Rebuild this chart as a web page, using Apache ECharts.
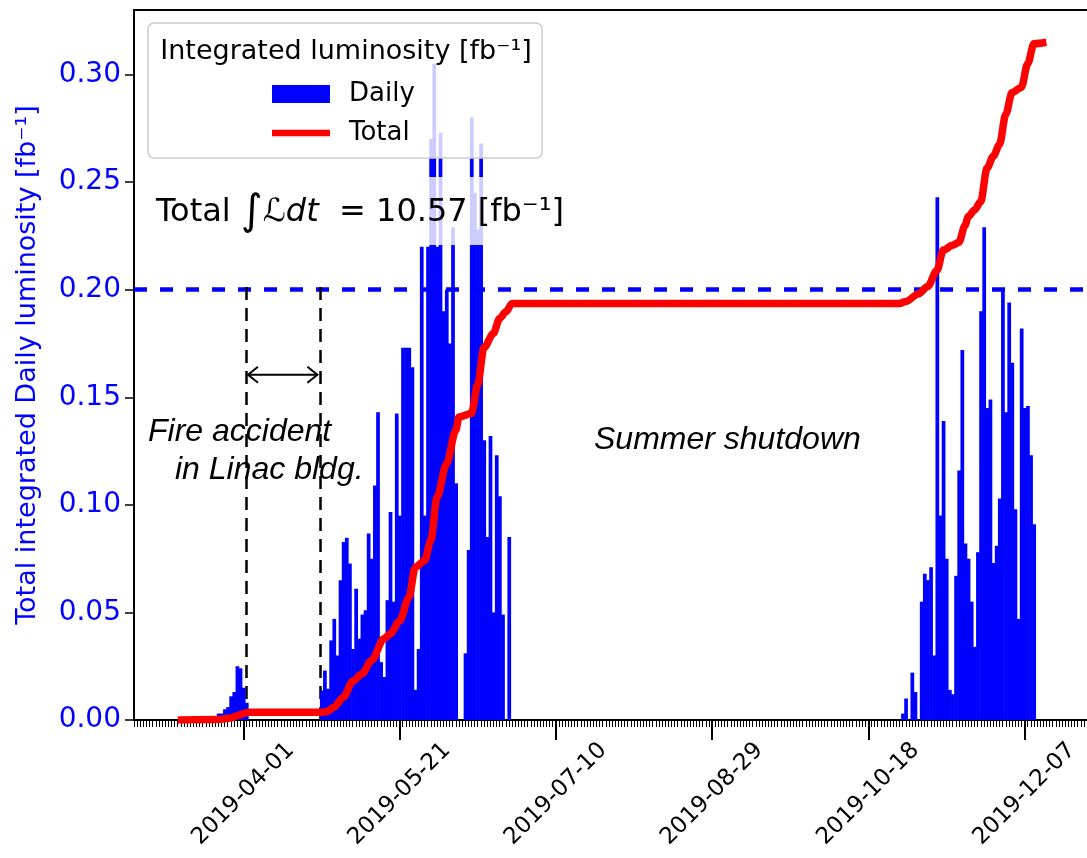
<!DOCTYPE html>
<html><head><meta charset="utf-8">
<script src="https://cdn.jsdelivr.net/npm/echarts@6/dist/echarts.min.js"></script>
<style>html,body{margin:0;padding:0;background:#fff}#c{width:1087px;height:858px}</style>
</head><body><div id="c"></div>
<script>
// ---------- data ----------
const xTickLabels = ['2019-04-01','2019-05-21','2019-07-10','2019-08-29','2019-10-18','2019-12-07'];
const yTickValues = [0, 0.05, 0.10, 0.15, 0.20, 0.25, 0.30];
const xRange = ['2019-02-25', '2019-12-27'];

// daily luminosity runs (one value per day from the start date)
const run1Start = '2019-03-24';
const run1Daily = [0.003, 0.003, 0.005, 0.006, 0.011, 0.013, 0.025, 0.024, 0.015, 0.008];
const run2Start = '2019-04-26';
const run2Daily = [0.0137, 0.023, 0.0145, 0.037, 0.047, 0.030, 0.065, 0.0827, 0.0847, 0.0727,
  0.033, 0.061, 0.0378, 0.049, 0.051, 0.0867, 0.075, 0.109, 0.143, 0.0269,
  0.020, 0.0557, 0.0967, 0.055, 0.1425, 0.095,
  0.173, 0.173, 0.173, 0.164, 0.014, 0.033, 0.22, 0.095, 0.22, 0.27,
  0.305, 0.22, 0.273, 0.19, 0.20, 0.175, 0.229, 0.11, 0, 0,
  0.031, 0.079, 0.28, 0.245, 0.228, 0.268, 0.13, 0.085, 0.132, 0.05,
  0.123, 0.104, 0.049, 0, 0.085];
const run3Start = '2019-10-29';
const run3Daily = [0.003, 0.010, 0, 0.022, 0.013, 0, 0.055, 0.068, 0.065, 0.071,
  0.030, 0.243, 0.095, 0.139, 0.075, 0.014, 0.012, 0.067, 0.116, 0.172,
  0.082, 0.075, 0.055, 0.034, 0.078, 0.19, 0.229, 0.145, 0.149, 0.073,
  0.081, 0.103, 0.20, 0.143, 0.194, 0.166, 0.098, 0.047, 0.182, 0.145,
  0.146, 0.123, 0.091];

// total (scaled) integrated luminosity curve
const totalDates = ['2019-03-11','2019-03-24','2019-03-28','2019-03-30','2019-04-02','2019-04-03',
  '2019-04-26','2019-04-28','2019-04-30','2019-05-03','2019-05-06','2019-05-09','2019-05-12',
  '2019-05-16','2019-05-18','2019-05-21','2019-05-24','2019-05-26','2019-05-29','2019-05-31',
  '2019-06-02','2019-06-05','2019-06-08','2019-06-09','2019-06-13','2019-06-15','2019-06-17',
  '2019-06-20','2019-06-22','2019-06-24','2019-06-26','2019-10-28','2019-10-30','2019-11-03',
  '2019-11-06','2019-11-09','2019-11-11','2019-11-14','2019-11-16','2019-11-18','2019-11-19',
  '2019-11-21','2019-11-23','2019-11-25','2019-11-27','2019-11-29','2019-12-01','2019-12-03',
  '2019-12-06','2019-12-08','2019-12-10','2019-12-14'];
const totalValues = [0, 0.0002, 0.0009, 0.002, 0.0034, 0.0036,
  0.0036, 0.004, 0.006, 0.0106, 0.018, 0.0215, 0.0277,
  0.0378, 0.040, 0.046, 0.057, 0.071, 0.074, 0.0835,
  0.1036, 0.119, 0.1347, 0.1408, 0.1424, 0.156, 0.173,
  0.1796, 0.1866, 0.1897, 0.1936, 0.1936, 0.1945, 0.198,
  0.2015, 0.209, 0.2184, 0.2207, 0.222, 0.23, 0.234,
  0.237, 0.241, 0.2565, 0.262, 0.2675, 0.2815, 0.2917,
  0.294, 0.305, 0.3143, 0.315];

const targetLevel = 0.20;
const fireLines = ['2019-04-02T00', '2019-04-25T12'];
const fireLineTop = 0.203;
const fireArrowY = 0.1605;
const totalText = '10.57';

// ---------- helpers ----------
const epoch = Date.UTC(2019, 3, 1);
const DAY = 86400000;
function dayOf(s) {
  const [date, hh] = s.split('T');
  const [y, m, d] = date.split('-').map(Number);
  return (Date.UTC(y, m - 1, d) - epoch) / DAY + (hh ? Number(hh) / 24 : 0);
}
function fmt(d) { return new Date(epoch + Math.round(d) * DAY).toISOString().slice(0, 10); }

const bars = [];
[[run1Start, run1Daily], [run2Start, run2Daily], [run3Start, run3Daily]].forEach(([s, arr]) => {
  const d0 = dayOf(s);
  arr.forEach((v, i) => { if (v > 0) bars.push([d0 + i, v]); });
});
const totalLine = totalDates.map((s, i) => [dayOf(s), totalValues[i]]);
const xTicks = xTickLabels.map(dayOf);
const xMin = dayOf(xRange[0]), xMax = dayOf(xRange[1]);
const fireX = fireLines.map(dayOf);

const FONT = '"DejaVu Sans", sans-serif';
const chart = echarts.init(document.getElementById('c'));

// one-day-wide bars, drawn through the axis scales (slight overlap to avoid seams)
function renderBar(params, api) {
  const d = api.value(0), v = api.value(1);
  const top = api.coord([d - 0.5, v]);
  const base = api.coord([d + 0.5, 0]);
  return { type: 'rect', shape: { x: top[0], y: top[1], width: base[0] - top[0] + 0.6, height: base[1] - top[1] },
           style: { fill: '#0000ff' } };
}

chart.setOption({
  animation: false,
  grid: { left: 134, top: 10, right: 0, bottom: 138, outerBoundsMode: 'none', containLabel: false },
  xAxis: [
    { type: 'value', min: xMin, max: xMax, position: 'bottom',
      axisLine: { onZero: false, lineStyle: { color: '#000', width: 2 } },
      axisTick: { customValues: xTicks, length: 20, lineStyle: { color: '#000', width: 2 } },
      axisLabel: { customValues: xTicks, formatter: fmt, rotate: 45, align: 'center', verticalAlign: 'middle',
        margin: 74, fontSize: 23, fontFamily: FONT, color: '#000' },
      splitLine: { show: false } },
    { type: 'value', min: xMin, max: xMax, interval: 1, position: 'bottom',
      axisLine: { show: false, onZero: false },
      axisTick: { length: 7, lineStyle: { color: '#000', width: 1 } },
      axisLabel: { show: false }, splitLine: { show: false } },
    { type: 'value', min: xMin, max: xMax, position: 'top',
      axisLine: { onZero: false, lineStyle: { color: '#000', width: 2 } },
      axisTick: { show: false }, axisLabel: { show: false }, splitLine: { show: false } }
  ],
  yAxis: {
    type: 'value', min: 0, max: 0.33,
    axisLine: { show: true, onZero: false, lineStyle: { color: '#000', width: 2 } },
    axisTick: { show: true, customValues: yTickValues, length: 9, lineStyle: { color: '#000', width: 1.5 } },
    axisLabel: { customValues: yTickValues, formatter: v => v.toFixed(2), color: '#0000ff', fontSize: 28, fontFamily: FONT, margin: 13 },
    splitLine: { show: false },
    name: 'Total integrated Daily luminosity [fb⁻¹]', nameLocation: 'middle', nameGap: 93,
    nameTextStyle: { color: '#0000ff', fontSize: 27, fontFamily: FONT }
  },
  legend: {
    data: [{ name: 'Daily', icon: 'rect' }, { name: 'Total', icon: 'path://M0,0 H61 V7 H0 Z' }],
    orient: 'vertical', left: 267, top: 74, itemWidth: 58, itemHeight: 18, itemGap: 9,
    selectedMode: false, z: 20,
    textStyle: { fontSize: 26, fontFamily: FONT, color: '#000', lineHeight: 30, padding: [0, 0, 0, 14] }
  },
  series: [
    { name: 'Daily', type: 'custom', data: bars, renderItem: renderBar, encode: { x: 0, y: 1 }, z: 2,
      itemStyle: { color: '#0000ff' },
      markLine: { silent: true, symbol: 'none', label: { show: false }, animation: false, z: 2,
        data: [
          { yAxis: targetLevel, lineStyle: { color: '#0000ff', width: 4.5, type: [13, 13] } },
          [{ coord: [fireX[0], 0], lineStyle: { color: '#000', width: 2.5, type: [13, 8] } }, { coord: [fireX[0], fireLineTop] }],
          [{ coord: [fireX[1], 0], lineStyle: { color: '#000', width: 2.5, type: [13, 8] } }, { coord: [fireX[1], fireLineTop] }]
        ] } },
    { name: 'Total', type: 'line', data: totalLine, symbol: 'none', z: 3, smooth: 0.3, smoothMonotone: 'x',
      lineStyle: { color: '#ff0000', width: 7.5, join: 'round', cap: 'butt' }, itemStyle: { color: '#ff0000' } }
  ]
});

// annotations anchored to data coordinates
const p1 = chart.convertToPixel({ gridIndex: 0 }, [fireX[0], fireArrowY]);
const p2 = chart.convertToPixel({ gridIndex: 0 }, [fireX[1], fireArrowY]);
const ax1 = p1[0] + 1.5, ax2 = p2[0] - 2.5, ay = p1[1];
const ITAL = 'italic 32px "Liberation Sans", Arial, sans-serif';
chart.setOption({
  graphic: [
    { type: 'rect', z: 10, shape: { x: 148, y: 23, width: 394, height: 135, r: 6 },
      style: { fill: 'rgba(255,255,255,0.8)', stroke: '#cccccc', lineWidth: 1.5 } },
    { type: 'text', z: 11, style: { text: 'Integrated luminosity [fb⁻¹]', x: 346, y: 52, align: 'center', verticalAlign: 'middle',
      font: '27px "DejaVu Sans"', fill: '#000' } },
    { type: 'rect', z: 10, shape: { x: 150, y: 177, width: 420, height: 68 },
      style: { fill: 'rgba(255,255,255,0.8)' } },
    { type: 'text', z: 11, style: { x: 156, y: 213, verticalAlign: 'middle', fill: '#000',
      text: '{a|Total }{i|∫}{l|ℒ}{d|dt}{a|  = ' + totalText + ' [fb⁻¹]}',
      rich: { a: { fontSize: 32, fontFamily: 'DejaVu Sans' }, i: { fontSize: 42, fontFamily: 'DejaVu Sans' },
              l: { fontSize: 32, fontFamily: 'DejaVu Sans', fontStyle: 'italic' }, d: { fontSize: 32, fontFamily: 'DejaVu Sans', fontStyle: 'italic' } } } },
    { type: 'polyline', z: 12, shape: { points: [[ax1, ay], [ax2, ay]] }, style: { stroke: '#000', lineWidth: 2 } },
    { type: 'polyline', z: 12, shape: { points: [[ax1 + 10, ay - 8], [ax1, ay], [ax1 + 10, ay + 8]] }, style: { stroke: '#000', lineWidth: 2, fill: null } },
    { type: 'polyline', z: 12, shape: { points: [[ax2 - 10, ay - 8], [ax2, ay], [ax2 - 10, ay + 8]] }, style: { stroke: '#000', lineWidth: 2, fill: null } },
    { type: 'text', z: 12, style: { text: 'Fire accident', x: 148, y: 432, verticalAlign: 'middle', font: ITAL, fill: '#000' } },
    { type: 'text', z: 12, style: { text: 'in Linac bldg.', x: 175, y: 470, verticalAlign: 'middle', font: ITAL, fill: '#000' } },
    { type: 'text', z: 12, style: { text: 'Summer shutdown', x: 594, y: 440, verticalAlign: 'middle', font: ITAL, fill: '#000' } }
  ]
});
</script></body></html>
